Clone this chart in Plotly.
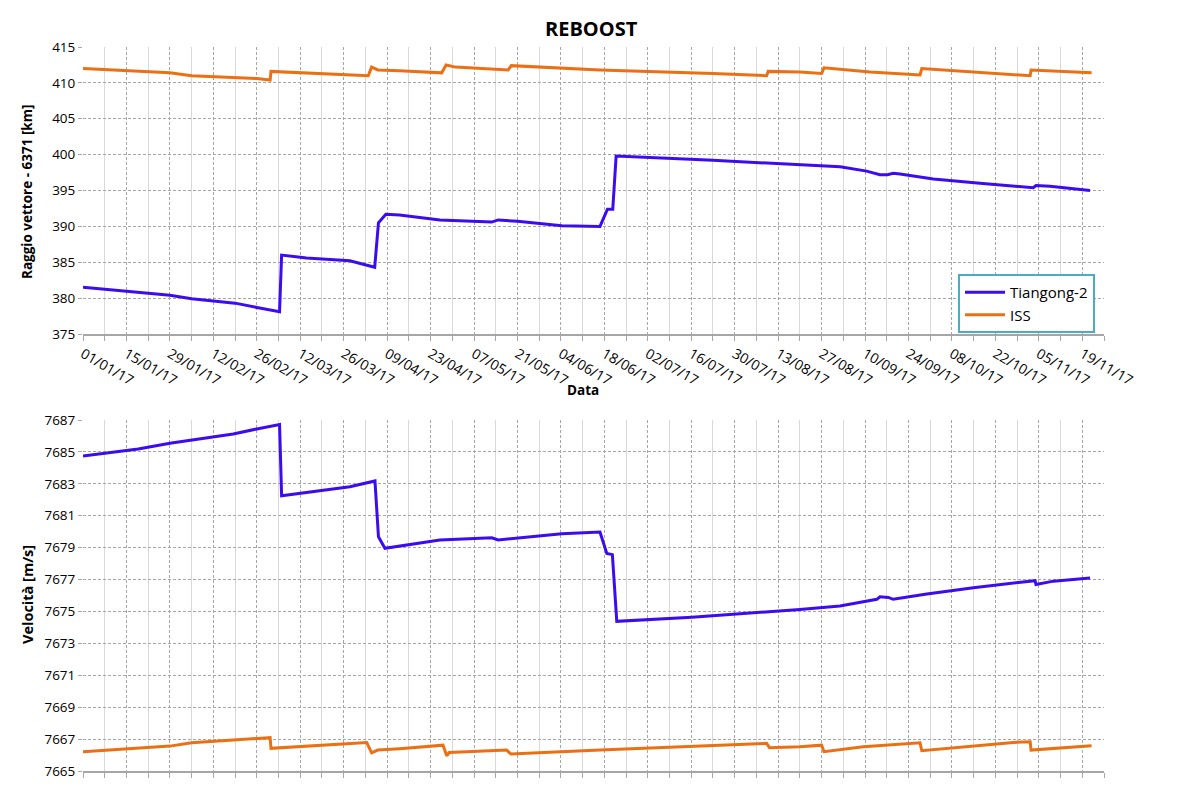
import plotly.graph_objects as go

# ---------------- data ----------------
TG_R_DATES = ["2017-01-01", "2017-01-15", "2017-01-29", "2017-02-05", "2017-02-19", "2017-02-26",
              "2017-03-05 08:00", "2017-03-06", "2017-03-14", "2017-03-28", "2017-04-05",
              "2017-04-06 05:00", "2017-04-08 14:00", "2017-04-13", "2017-04-26", "2017-05-12 17:00",
              "2017-05-14 19:00", "2017-05-21", "2017-06-04 07:00", "2017-06-16 14:00", "2017-06-19",
              "2017-06-20 17:00", "2017-06-21 19:00", "2017-07-23", "2017-08-20", "2017-09-02",
              "2017-09-10 12:00", "2017-09-14 19:00", "2017-09-17 05:00", "2017-09-19 02:00",
              "2017-09-21 07:00", "2017-10-02", "2017-10-17", "2017-11-03 05:00", "2017-11-04 02:00",
              "2017-11-08 14:00", "2017-11-21 12:00"]
TG_R = [381.5, 381.0, 380.4, 379.9, 379.3, 378.7,
        378.1, 386.0, 385.6, 385.2, 384.3,
        390.5, 391.7, 391.6, 390.9, 390.6,
        390.9, 390.7, 390.1, 390.0, 392.4,
        392.4, 399.8, 399.2, 398.6, 398.3,
        397.7, 397.2, 397.2, 397.4,
        397.3, 396.6, 396.0, 395.4, 395.7,
        395.6, 395.0]

TG_V_DATES = ["2017-01-01", "2017-01-18 19:00", "2017-01-29", "2017-02-05", "2017-02-18 10:00",
              "2017-02-26", "2017-03-05 08:00", "2017-03-06", "2017-03-28", "2017-04-05 02:00",
              "2017-04-06 05:00", "2017-04-08 07:00", "2017-04-13", "2017-04-26", "2017-05-12 17:00",
              "2017-05-14 19:00", "2017-06-04 07:00", "2017-06-16 14:00", "2017-06-18 19:00",
              "2017-06-20 14:00", "2017-06-22", "2017-07-16 05:00", "2017-08-20", "2017-09-01 22:00",
              "2017-09-09 10:00", "2017-09-13 19:00", "2017-09-14 19:00", "2017-09-17 12:00",
              "2017-09-19 02:00", "2017-09-29 22:00", "2017-10-14 22:00", "2017-10-28 22:00",
              "2017-11-03 19:00", "2017-11-04 02:00", "2017-11-09 17:00", "2017-11-21 12:00"]
TG_V = [7684.74, 7685.18, 7685.54, 7685.75, 7686.12,
        7686.44, 7686.71, 7682.25, 7682.82, 7683.18,
        7679.68, 7678.96, 7679.10, 7679.48, 7679.62,
        7679.48, 7679.87, 7679.98, 7678.64,
        7678.56, 7674.38, 7674.63, 7675.13, 7675.34,
        7675.61, 7675.76, 7675.92, 7675.88,
        7675.76, 7676.09, 7676.49, 7676.82,
        7676.93, 7676.69, 7676.90, 7677.09]

ISS_R_DATES = ["2017-01-01", "2017-01-15", "2017-01-29", "2017-02-05", "2017-02-26",
               "2017-03-02 07:00", "2017-03-02 14:00", "2017-04-02 22:00", "2017-04-04", "2017-04-06",
               "2017-04-13", "2017-04-26 14:00", "2017-04-28", "2017-05-01", "2017-05-18", "2017-05-19",
               "2017-06-16 14:00", "2017-07-23", "2017-08-09 07:00", "2017-08-09 19:00", "2017-08-20",
               "2017-08-27", "2017-08-27 19:00", "2017-09-11 14:00", "2017-09-27 17:00",
               "2017-09-28 07:00", "2017-11-02 05:00", "2017-11-02 12:00", "2017-11-08 14:00",
               "2017-11-22"]
ISS_R = [412.0, 411.7, 411.4, 411.0, 410.6,
         410.4, 411.6, 411.0, 412.2, 411.8,
         411.7, 411.4, 412.5, 412.2, 411.8, 412.4,
         411.8, 411.3, 411.0, 411.6, 411.5,
         411.3, 412.1, 411.5, 411.1,
         412.0, 411.0, 411.8, 411.7,
         411.4]

ISS_V_DATES = ["2017-01-01", "2017-01-22", "2017-01-29", "2017-02-05", "2017-02-26",
               "2017-03-02 07:00", "2017-03-02 14:00", "2017-04-02 10:00", "2017-04-04", "2017-04-06",
               "2017-04-13", "2017-04-27", "2017-04-28 05:00", "2017-04-29", "2017-05-17 12:00",
               "2017-05-18 22:00", "2017-06-16 14:00", "2017-07-23", "2017-08-09 07:00",
               "2017-08-10 05:00", "2017-08-20", "2017-08-27", "2017-08-27 19:00", "2017-09-09 10:00",
               "2017-09-27 17:00", "2017-09-28 07:00", "2017-10-27 19:00", "2017-11-02 05:00",
               "2017-11-02 12:00", "2017-11-22"]
ISS_V = [7666.21, 7666.46, 7666.56, 7666.77, 7667.02,
         7667.09, 7666.42, 7666.79, 7666.14, 7666.31,
         7666.40, 7666.62, 7665.95, 7666.16, 7666.31,
         7666.06, 7666.31, 7666.62, 7666.73,
         7666.46, 7666.52, 7666.62, 7666.21, 7666.52,
         7666.77, 7666.27, 7666.79, 7666.83,
         7666.31, 7666.58]

TITLE = "REBOOST"
NAMES = ["Tiangong-2", "ISS"]
Y1_TITLE = "Raggio vettore - 6371 [km]"
Y2_TITLE = "Velocità [m/s]"
X_TITLE = "Data"

# ---------------- styling ----------------
BLUE = "#3C0CF0"
ORANGE = "#EB7013"
FONT = "Open Sans"
W, H = 1181, 802
OFF = 8  # page body offset
# target page pixels of plot area
PL, PR, PT, PB = 83, 1104, 47, 771
L = PL - OFF
T = PT - OFF
R = W - (PR - OFF)
B = H - (PB - OFF)
pw = W - L - R
ph = H - T - B

def fy(page_y):
    return (H - B - (page_y - OFF)) / ph

def fx(page_x):
    return (page_x - OFF - L) / pw

DAY = 86400000

fig = go.Figure()
fig.add_trace(go.Scatter(x=TG_R_DATES, y=TG_R, name=NAMES[0], mode="lines",
                         line=dict(color=BLUE, width=3), xaxis="x", yaxis="y"))
fig.add_trace(go.Scatter(x=ISS_R_DATES, y=ISS_R, name=NAMES[1], mode="lines",
                         line=dict(color=ORANGE, width=3), xaxis="x", yaxis="y"))
fig.add_trace(go.Scatter(x=TG_V_DATES, y=TG_V, name=NAMES[0], mode="lines", showlegend=False,
                         line=dict(color=BLUE, width=3), xaxis="x2", yaxis="y2"))
fig.add_trace(go.Scatter(x=ISS_V_DATES, y=ISS_V, name=NAMES[1], mode="lines", showlegend=False,
                         line=dict(color=ORANGE, width=3), xaxis="x2", yaxis="y2"))

xcommon = dict(type="date", range=["2017-01-01", "2017-11-26"], tick0="2017-01-01",
               dtick=14 * DAY, tickformat="%d/%m/%y", showgrid=True,
               gridcolor="#A6A6A6", griddash="3px,2px", gridwidth=1,
               showline=True, linecolor="#A6A6A6", linewidth=1.5,
               ticks="outside", ticklen=5, tickcolor="#A6A6A6",
               minor=dict(dtick=7 * DAY, tick0="2017-01-01", showgrid=True,
                          gridcolor="#D9D9D9", griddash="solid", gridwidth=1,
                          ticks="outside", ticklen=5, tickcolor="#A6A6A6"),
               zeroline=False, tickfont=dict(family=FONT, size=14, color="#000000"))
ycommon = dict(showgrid=True, gridcolor="#A6A6A6", griddash="3px,2px", gridwidth=1,
               ticks="outside", ticklen=4, tickcolor="#A6A6A6", zeroline=False,
               showline=False, tickfont=dict(family=FONT, size=13.5, color="#000000"))

title_font = dict(family=FONT, size=13.5, color="#000000")

fig.update_layout(
    width=W, height=H,
    margin=dict(l=L, r=R, t=T, b=B),
    paper_bgcolor="white", plot_bgcolor="white",
    showlegend=True,
    xaxis=dict(xcommon, domain=[0, 1], anchor="y", tickangle=30),
    yaxis=dict(ycommon, domain=[fy(334), 1], anchor="x", range=[375, 415], dtick=5, tick0=375),
    xaxis2=dict(xcommon, domain=[0, 1], anchor="y2", showticklabels=False),
    yaxis2=dict(ycommon, domain=[0, fy(420)], anchor="x2", range=[7665, 7687], dtick=2, tick0=7665),
    legend=dict(x=fx(958), y=fy(274), xanchor="left", yanchor="top",
                bgcolor="white", bordercolor="#4BACC6", borderwidth=2,
                font=dict(family=FONT, size=15, color="#000000"), itemwidth=40,
                tracegroupgap=4),
    annotations=[
        dict(text="<b>" + TITLE + "</b>", x=fx(591), y=fy(29), xref="paper", yref="paper",
             xanchor="center", yanchor="middle", showarrow=False,
             font=dict(family=FONT, size=20, color="#000000")),
        dict(text="<b>" + X_TITLE + "</b>", x=fx(583), y=fy(390), xref="paper", yref="paper",
             xanchor="center", yanchor="middle", showarrow=False, font=title_font),
        dict(text="<b>" + Y1_TITLE + "</b>", x=fx(27), y=fy(192), xref="paper", yref="paper",
             xanchor="center", yanchor="middle", showarrow=False, textangle=-90, font=title_font),
        dict(text="<b>" + Y2_TITLE + "</b>", x=fx(27), y=fy(595), xref="paper", yref="paper",
             xanchor="center", yanchor="middle", showarrow=False, textangle=-90,
             font=dict(family=FONT, size=14.5, color="#000000")),
    ],
)

fig.write_html("out.html")
